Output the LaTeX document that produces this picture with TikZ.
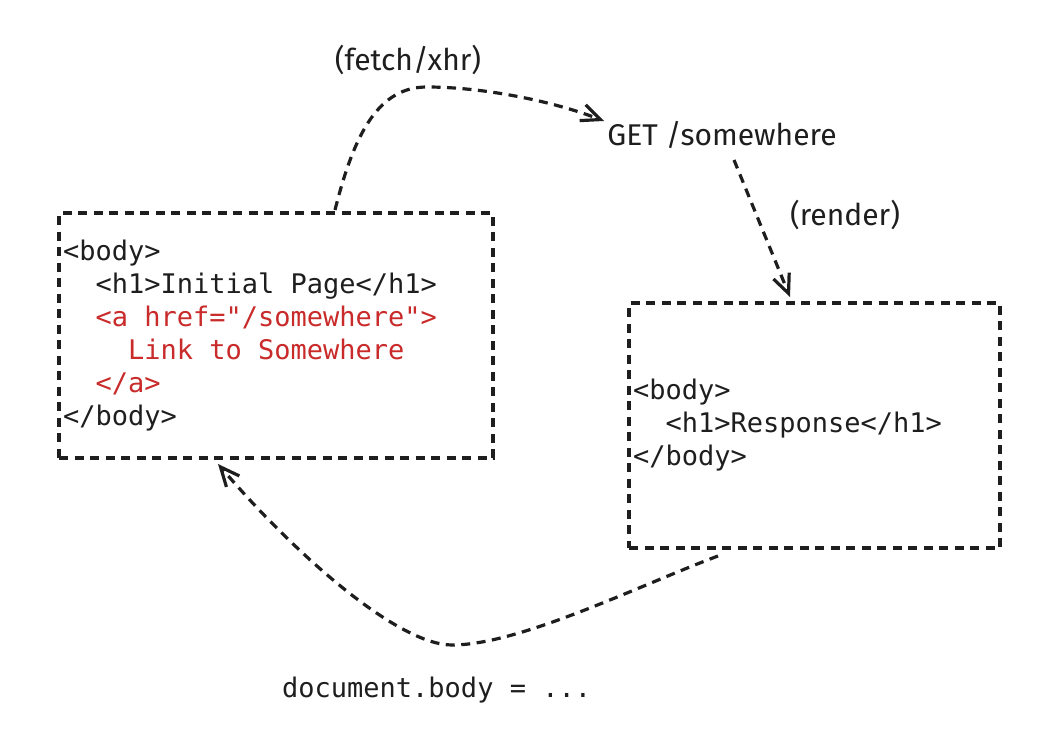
\documentclass[tikz,border=0pt]{standalone}
\usepackage{fontspec}
\setmonofont{DejaVu Sans Mono}
\newfontfamily\handfont{Fira Sans}
\usetikzlibrary{arrows.meta}
\definecolor{ink}{HTML}{1E1E1E}
\definecolor{linkred}{HTML}{C92A2A}
\newcommand{\codefont}{\ttfamily\fontsize{27}{33}\selectfont}
\newcommand{\vs}{\phantom{x}}
\begin{document}
\begin{tikzpicture}[x=1pt,y=-1pt,
  dashline/.style={line width=3.2pt, dash pattern=on 9pt off 6.5pt, draw=ink},
  codebox/.style={draw, dashline, align=left, inner xsep=4pt, inner ysep=0pt,
    font=\codefont, text=ink, minimum height=245pt},
  hand/.style={font=\handfont\fontsize{30}{33}\selectfont, text=ink, inner sep=0pt},
  arr/.style={dashline, -{Straight Barb[length=19pt,width=17pt,line width=3.2pt]}},
]
\useasboundingbox (0,0) rectangle (1057,749);

\node[codebox, text width=426pt] (lbox) at (276,335.5) {%
<body>\\
\vs\vs<h1>Initial\vs{}Page</h1>\\
\textcolor{linkred}{\vs\vs<a\vs{}href="/somewhere">}\\
\textcolor{linkred}{\vs\vs\vs\vs{}Link\vs{}to\vs{}Somewhere}\\
\textcolor{linkred}{\vs\vs</a>}\\
</body>};

\node[codebox, text width=363pt] (rbox) at (814.5,425.5) {%
<body>\\
\vs\vs<h1>Response</h1>\\
</body>};

\node[hand] (get) at (722,135) {GET /somewhere};
\node[hand] (fetchlbl) at (408,60) {(fetch/xhr)};
\node[hand] (renderlbl) at (845,215) {(render)};
\node[font=\codefont, text=ink, anchor=west, inner sep=0pt] (docbody) at (282,690) {document.body\vs=\vs...};

\coordinate (a1s) at (335,210);
\coordinate (a1m) at (427,87);
\coordinate (a1e) at (604,121);
\coordinate (a2s) at (734,160);
\coordinate (a2e) at (790,297);
\coordinate (a3s) at (718,556);
\coordinate (a3m) at (452,645);
\coordinate (a3e) at (218,464);

\draw[arr] (a1s) .. controls (355,130) and (380,87) .. (a1m)
  .. controls (480,87) and (550,100) .. (a1e);
\draw[arr] (a2s) -- (a2e);
\draw[arr] (a3s) .. controls (640,585) and (520,645) .. (a3m)
  .. controls (400,645) and (300,560) .. (a3e);
\end{tikzpicture}
\end{document}
